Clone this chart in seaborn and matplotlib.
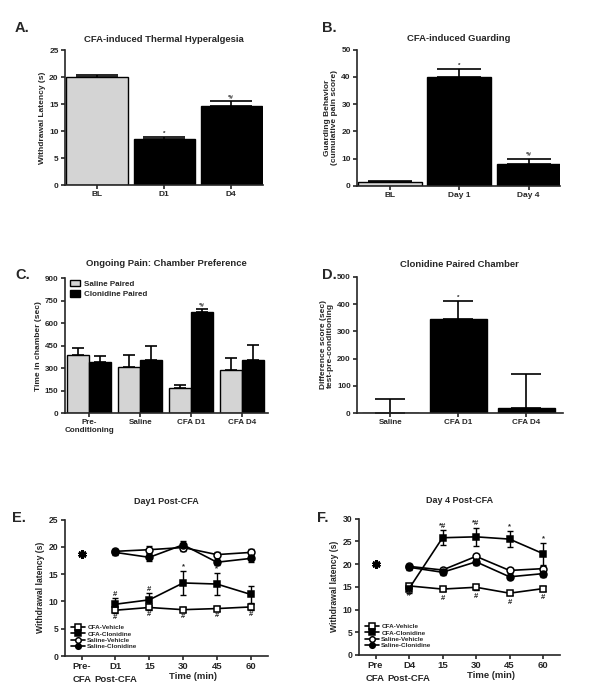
import numpy as np
import pandas as pd
import seaborn as sns
import matplotlib.pyplot as plt

# ---- data ----
# A. thermal hyperalgesia
a_labels = ['BL', 'D1', 'D4']
a_values = [20.0, 8.5, 14.7]
a_errors = [0.4, 0.4, 0.9]
a_marks = ['', '*', '*#']

# B. guarding
b_labels = ['BL', 'Day 1', 'Day 4']
b_values = [1.3, 40.0, 8.0]
b_errors = [0.4, 2.8, 2.0]
b_marks = ['', '*', '*#']

# C. chamber preference
c_labels = ['Pre-\nConditioning', 'Saline', 'CFA D1', 'CFA D4']
c_groups = ['Saline Paired', 'Clonidine Paired']
c_saline = [390, 305, 165, 285]
c_saline_err = [45, 80, 25, 80]
c_clon = [340, 355, 675, 355]
c_clon_err = [40, 95, 20, 100]
c_clon_marks = ['', '', '*#', '']

# D. clonidine paired chamber
d_labels = ['Saline', 'CFA D1', 'CFA D4']
d_values = [0, 345, 18]
d_errors = [50, 65, 125]
d_marks = ['', '*', '']

# E / F time courses
series_names = ['CFA-Vehicle', 'CFA-Clonidine', 'Saline-Vehicle', 'Saline-Clonidine']
e_ticks = ['Pre-\nCFA', 'D1\nPost-CFA', '15', '30', '45', '60']
e_pre = 18.8
e_vals = [[8.4, 8.9, 8.5, 8.7, 9.0],
          [9.5, 10.3, 13.4, 13.2, 11.3],
          [19.2, 19.5, 19.9, 18.6, 19.0],
          [19.0, 18.1, 20.4, 17.2, 17.9]]
e_errs = [[0.6, 0.5, 0.4, 0.4, 0.5],
          [1.1, 1.2, 2.2, 2.0, 1.5],
          [0.5, 0.6, 0.6, 0.5, 0.6],
          [0.5, 0.6, 0.7, 0.5, 0.6]]
e_marks_top = ['#', '#', '*', '*', '']
e_marks_bot = ['#', '#', '#', '#', '#']

f_ticks = ['Pre\nCFA', 'D4\nPost-CFA', '15', '30', '45', '60']
f_pre = 20.0
f_vals = [[15.2, 14.5, 14.9, 13.6, 14.6],
          [14.6, 25.8, 26.0, 25.5, 22.3],
          [19.5, 18.7, 21.7, 18.6, 19.0],
          [19.3, 18.2, 20.5, 17.2, 17.9]]
f_errs = [[0.5, 0.5, 0.5, 0.5, 0.5],
          [1.0, 1.7, 2.0, 1.8, 2.4],
          [0.5, 0.5, 0.6, 0.5, 0.6],
          [0.5, 0.5, 0.6, 0.5, 0.7]]
f_marks_top = ['', '*#', '*#', '*', '*']
f_marks_bot = ['#', '#', '#', '#', '#']

GRAY = '#d4d4d4'

sns.set_style('ticks')
plt.rcParams['font.family'] = ['Liberation Sans', 'DejaVu Sans']
plt.rcParams['font.weight'] = 'bold'
plt.rcParams['axes.labelweight'] = 'bold'
plt.rcParams['axes.titleweight'] = 'bold'
plt.rcParams['axes.linewidth'] = 1.2
plt.rcParams['xtick.major.width'] = 1.2
plt.rcParams['ytick.major.width'] = 1.2
plt.rcParams['xtick.major.size'] = 3
plt.rcParams['ytick.major.size'] = 3

fig = plt.figure(figsize=(6, 6.99), dpi=100)


def style_axes(ax, tick_fs=5.5):
    sns.despine(ax=ax)
    ax.tick_params(labelsize=tick_fs, pad=1.5)
    ax.set_xlabel('')


def add_bar_errors(ax, containers, errs, marks, cap, fs=4.5, off=0):
    for cont, er, mk in zip(containers, errs, marks):
        for bar, e, m in zip(cont, er, mk):
            x = bar.get_x() + bar.get_width() / 2
            h = bar.get_height()
            ax.errorbar(x, h, yerr=[[0], [e]], fmt='none', ecolor='black',
                        elinewidth=1.2, capthick=1.2, capsize=cap)
            if m:
                ax.text(x, h + e + off, m, ha='center', va='bottom', fontsize=fs)


def simple_bars(ax, labels, values, errors, marks, colors, width, cap, off):
    sns.barplot(x=labels, y=values, hue=labels, palette=colors, legend=False,
                width=width, edgecolor='black', linewidth=1, saturation=1, ax=ax)
    conts = list(ax.containers)
    add_bar_errors(ax, conts, [[e] for e in errors], [[m] for m in marks], cap, off=off)


# ---- A ----
axA = fig.add_axes([0.108, 0.735, 0.33, 0.193])
simple_bars(axA, a_labels, a_values, a_errors, a_marks, [GRAY, 'black', 'black'], 0.91, 15, 0.2)
axA.set_ylim(0, 25)
axA.set_yticks(range(0, 26, 5))
axA.set_xlim(-0.48, 2.47)
axA.set_ylabel('Withdrawal Latency (s)', fontsize=6, labelpad=2)
axA.set_title('CFA-induced Thermal Hyperalgesia', fontsize=6.8, pad=6)
style_axes(axA, 6)

# ---- B ----
axB = fig.add_axes([0.595, 0.734, 0.338, 0.195])
simple_bars(axB, b_labels, b_values, b_errors, b_marks, [GRAY, 'black', 'black'], 0.92, 16, 0.5)
axB.set_ylim(0, 50)
axB.set_yticks(range(0, 51, 10))
axB.set_xlim(-0.47, 2.45)
axB.set_ylabel('Guarding Behavior\n(cumulative pain score)', fontsize=6, labelpad=2, linespacing=1.0)
axB.set_title('CFA-induced Guarding', fontsize=6.8, pad=6)
style_axes(axB, 6)

# ---- C ----
axC = fig.add_axes([0.108, 0.409, 0.338, 0.193])
df_c = pd.DataFrame({
    'cond': c_labels * 2,
    'group': [c_groups[0]] * 4 + [c_groups[1]] * 4,
    'time': c_saline + c_clon,
})
sns.barplot(data=df_c, x='cond', y='time', hue='group', palette=[GRAY, 'black'],
            width=0.87, edgecolor='black', linewidth=1, saturation=1, ax=axC)
add_bar_errors(axC, list(axC.containers), [c_saline_err, c_clon_err],
               [[''] * 4, c_clon_marks], 4.3, off=8)
axC.set_ylim(0, 900)
axC.set_yticks(range(0, 901, 150))
axC.set_xlim(-0.48, 3.5)
axC.set_ylabel('Time in chamber (sec)', fontsize=6, labelpad=2)
axC.set_title('Ongoing Pain: Chamber Preference', fontsize=6.8, pad=9)
sns.move_legend(axC, 'upper left', title=None, frameon=False, fontsize=5.8,
                bbox_to_anchor=(0.0, 1.03), handlelength=1.2, handleheight=0.9,
                handletextpad=0.5, labelspacing=0.25, borderaxespad=0.3)
style_axes(axC, 5.8)

# ---- D ----
axD = fig.add_axes([0.595, 0.409, 0.343, 0.195])
simple_bars(axD, d_labels, d_values, d_errors, d_marks, ['black', 'black', 'black'], 0.84, 11, 4)
axD.set_ylim(0, 500)
axD.set_yticks(range(0, 501, 100))
axD.set_xlim(-0.49, 2.54)
axD.set_ylabel('Difference score (sec)\ntest-pre-conditioning', fontsize=6, labelpad=2, linespacing=1.0)
axD.set_title('Clonidine Paired Chamber', fontsize=6.8, pad=7)
style_axes(axD, 5.8)


# ---- E / F ----
def time_panel(ax, ticks, pre, vals, errs, top, bot, bot_off, title, ymax, step, xlab_x):
    pos = np.arange(1, 6)
    mfc = ['white', 'black', 'white', 'black']
    mk = ['s', 's', 'o', 'o']
    for name, v, e, fc, m in zip(series_names, vals, errs, mfc, mk):
        ax.errorbar(pos, v, yerr=e, fmt='none', ecolor='black', elinewidth=1,
                    capthick=1, capsize=2.5, zorder=2)
        sns.lineplot(x=pos, y=v, ax=ax, color='black', linewidth=1.2, marker=m,
                     markersize=5, markerfacecolor=fc, markeredgecolor='black',
                     markeredgewidth=1.1, errorbar=None, label=name, zorder=3)
    ax.plot([0], [pre], marker=(6, 2, 0), markersize=6, markeredgewidth=2,
            color='black', linestyle='none')
    for x, v, e, m in zip(pos, vals[1], errs[1], top):
        if m:
            ax.text(x, v + e + 0.1, m, ha='center', va='bottom', fontsize=5.5)
    for x, v, m in zip(pos, vals[0], bot):
        ax.text(x, v - bot_off, m, ha='center', va='center', fontsize=5.5)
    ax.set_xlim(-0.5, 5.5)
    ax.set_xticks(range(6))
    ax.set_xticklabels(ticks, linespacing=1.5)
    ax.set_ylim(0, ymax)
    ax.set_yticks(range(0, ymax + 1, step))
    ax.set_ylabel('Withdrawal latency (s)', fontsize=6.2, labelpad=3)
    ax.set_title(title, fontsize=6.5, pad=11)
    sns.despine(ax=ax)
    ax.tick_params(axis='y', labelsize=6.2, pad=1.5)
    ax.tick_params(axis='x', labelsize=6.8, pad=1.5)
    ax.set_xlabel('Time (min)', fontsize=6.8)
    ax.xaxis.set_label_coords(xlab_x, -0.12)
    ax.legend(loc='lower left', frameon=False, fontsize=4.6, handlelength=2.2,
              markerscale=0.8, labelspacing=0.15, handletextpad=0.4,
              borderaxespad=0.2, bbox_to_anchor=(0.01, 0.02))


axE = fig.add_axes([0.108, 0.0615, 0.338, 0.195])
time_panel(axE, e_ticks, e_pre, e_vals, e_errs, e_marks_top, e_marks_bot, 1.3,
           'Day1 Post-CFA', 25, 5, 0.63)

axF = fig.add_axes([0.598, 0.063, 0.335, 0.195])
time_panel(axF, f_ticks, f_pre, f_vals, f_errs, f_marks_top, f_marks_bot, 2.0,
           'Day 4 Post-CFA', 30, 5, 0.66)

# panel letters
for lab, x, y in [('A.', 0.025, 0.96), ('B.', 0.537, 0.96), ('C.', 0.025, 0.607),
                  ('D.', 0.537, 0.607), ('E.', 0.02, 0.259), ('F.', 0.528, 0.259)]:
    fig.text(x, y, lab, fontsize=10.5, fontweight='bold', va='center', ha='left')

fig.savefig('out.png', dpi=100)
